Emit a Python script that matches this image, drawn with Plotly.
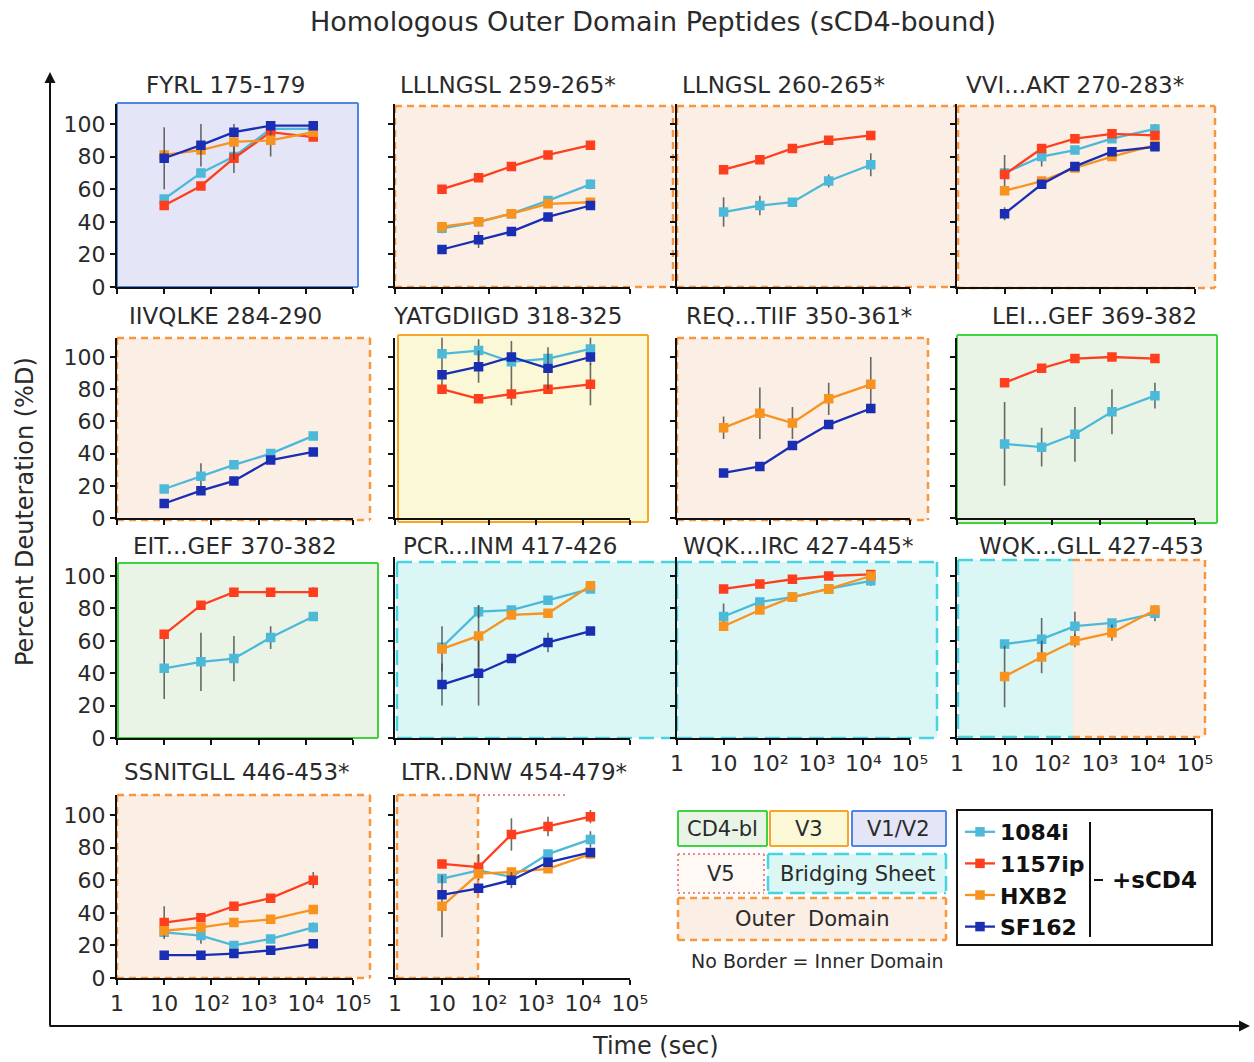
import plotly.graph_objects as go

W, H = 1254, 1062

# ---------------- data ----------------
TIMES = [10, 60, 300, 1800, 14400]          # exchange times (s)
SERIES = ["1084i", "1157ip", "HXB2", "SF162"]
X_TICK_VALS = [1, 10, 100, 1000, 10000, 100000]
X_TICK_TEXT = ["1", "10", "10²", "10³", "10⁴", "10⁵"]
Y_TICK_VALS = [0, 20, 40, 60, 80, 100]

PANEL_TITLES = [
    "FYRL 175-179", "LLLNGSL 259-265*", "LLNGSL 260-265*", "VVI...AKT 270-283*",
    "IIVQLKE 284-290", "YATGDIIGD 318-325", "REQ...TIIF 350-361*", "LEI...GEF 369-382",
    "EIT...GEF 370-382", "PCR...INM 417-426", "WQK...IRC 427-445*", "WQK...GLL 427-453",
    "SSNITGLL 446-453*", "LTR..DNW 454-479*",
]

# FYRL 175-179
fyrl_1084i = [54, 70, 80, 97, 97]
fyrl_1157ip = [50, 62, 79, 95, 92]
fyrl_hxb2 = [81, 84, 89, 90, 95]
fyrl_sf162 = [79, 87, 95, 99, 99]
fyrl_1157ip_err = [0, 0, 9, 0, 0]
fyrl_hxb2_err = [0, 0, 11, 10, 0]
fyrl_sf162_err = [19, 13, 0, 0, 0]

# LLLNGSL 259-265*
lllngsl_1084i = [36, 40, 45, 53, 63]
lllngsl_1157ip = [60, 67, 74, 81, 87]
lllngsl_hxb2 = [37, 40, 45, 51, 52]
lllngsl_sf162 = [23, 29, 34, 43, 50]
lllngsl_1084i_err = [3, 0, 0, 0, 3]
lllngsl_sf162_err = [0, 5, 0, 0, 0]

# LLNGSL 260-265*
llngsl_1084i = [46, 50, 52, 65, 75]
llngsl_1157ip = [72, 78, 85, 90, 93]
llngsl_1084i_err = [9, 6, 0, 4, 7]

# VVI...AKT 270-283*
vvi_1084i = [70, 80, 84, 91, 97]
vvi_1157ip = [69, 85, 91, 94, 93]
vvi_hxb2 = [59, 65, 73, 80, 87]
vvi_sf162 = [45, 63, 74, 83, 86]
vvi_1084i_err = [0, 6, 0, 0, 3]
vvi_1157ip_err = [12, 0, 0, 0, 0]
vvi_sf162_err = [4, 0, 0, 0, 0]

# IIVQLKE 284-290
iivqlke_1084i = [18, 26, 33, 40, 51]
iivqlke_sf162 = [9, 17, 23, 36, 41]
iivqlke_1084i_err = [2, 8, 0, 0, 0]

# YATGDIIGD 318-325
yatg_1084i = [102, 104, 97, 99, 105]
yatg_1157ip = [80, 74, 77, 80, 83]
yatg_sf162 = [89, 94, 100, 93, 100]
yatg_1084i_err = [20, 7, 13, 0, 10]
yatg_1157ip_err = [0, 0, 7, 0, 13]
yatg_sf162_err = [0, 10, 0, 13, 0]

# REQ...TIIF 350-361*
req_hxb2 = [56, 65, 59, 74, 83]
req_sf162 = [28, 32, 45, 58, 68]
req_hxb2_err = [7, 16, 10, 10, 17]

# LEI...GEF 369-382
lei_1084i = [46, 44, 52, 66, 76]
lei_1157ip = [84, 93, 99, 100, 99]
lei_1084i_err = [26, 12, 17, 14, 8]

# EIT...GEF 370-382
eit_1084i = [43, 47, 49, 62, 75]
eit_1157ip = [64, 82, 90, 90, 90]
eit_1084i_err = [19, 18, 14, 7, 0]
eit_1157ip_err = [0, 0, 0, 0, 3]

# PCR...INM 417-426
pcr_1084i = [56, 78, 79, 85, 92]
pcr_hxb2 = [55, 63, 76, 77, 94]
pcr_sf162 = [33, 40, 49, 59, 66]
pcr_1084i_err = [0, 4, 0, 0, 2]
pcr_hxb2_err = [14, 19, 0, 0, 0]
pcr_sf162_err = [13, 20, 0, 6, 0]

# WQK...IRC 427-445*
wqkirc_1084i = [75, 84, 87, 92, 97]
wqkirc_1157ip = [92, 95, 98, 100, 101]
wqkirc_hxb2 = [69, 79, 87, 92, 100]
wqkirc_1084i_err = [8, 0, 0, 0, 3]
wqkirc_hxb2_err = [3, 0, 2, 0, 0]

# WQK...GLL 427-453
wqkgll_1084i = [58, 61, 69, 71, 77]
wqkgll_hxb2 = [38, 50, 60, 65, 79]
wqkgll_1084i_err = [0, 13, 9, 0, 5]
wqkgll_hxb2_err = [19, 10, 4, 5, 0]

# SSNITGLL 446-453*
ssn_1084i = [28, 26, 20, 24, 31]
ssn_1157ip = [34, 37, 44, 49, 60]
ssn_hxb2 = [29, 31, 34, 36, 42]
ssn_sf162 = [14, 14, 15, 17, 21]
ssn_1084i_err = [0, 5, 0, 0, 3]
ssn_1157ip_err = [10, 0, 0, 0, 5]

# LTR..DNW 454-479*
ltr_1084i = [61, 66, 62, 76, 85]
ltr_1157ip = [70, 68, 88, 93, 99]
ltr_hxb2 = [44, 64, 65, 67, 76]
ltr_sf162 = [51, 55, 60, 71, 77]
ltr_1084i_err = [0, 0, 0, 0, 5]
ltr_1157ip_err = [0, 8, 10, 6, 4]
ltr_hxb2_err = [19, 0, 0, 0, 0]
ltr_sf162_err = [0, 0, 5, 0, 0]

# per-panel table built from the arrays above: series -> (values, errors)
PANELS = [
    {"1084i": (fyrl_1084i, None), "1157ip": (fyrl_1157ip, fyrl_1157ip_err),
     "HXB2": (fyrl_hxb2, fyrl_hxb2_err), "SF162": (fyrl_sf162, fyrl_sf162_err)},
    {"1084i": (lllngsl_1084i, lllngsl_1084i_err), "1157ip": (lllngsl_1157ip, None),
     "HXB2": (lllngsl_hxb2, None), "SF162": (lllngsl_sf162, lllngsl_sf162_err)},
    {"1084i": (llngsl_1084i, llngsl_1084i_err), "1157ip": (llngsl_1157ip, None)},
    {"1084i": (vvi_1084i, vvi_1084i_err), "1157ip": (vvi_1157ip, vvi_1157ip_err),
     "HXB2": (vvi_hxb2, None), "SF162": (vvi_sf162, vvi_sf162_err)},
    {"1084i": (iivqlke_1084i, iivqlke_1084i_err), "SF162": (iivqlke_sf162, None)},
    {"1084i": (yatg_1084i, yatg_1084i_err), "1157ip": (yatg_1157ip, yatg_1157ip_err),
     "SF162": (yatg_sf162, yatg_sf162_err)},
    {"HXB2": (req_hxb2, req_hxb2_err), "SF162": (req_sf162, None)},
    {"1084i": (lei_1084i, lei_1084i_err), "1157ip": (lei_1157ip, None)},
    {"1084i": (eit_1084i, eit_1084i_err), "1157ip": (eit_1157ip, eit_1157ip_err)},
    {"1084i": (pcr_1084i, pcr_1084i_err), "HXB2": (pcr_hxb2, pcr_hxb2_err),
     "SF162": (pcr_sf162, pcr_sf162_err)},
    {"1084i": (wqkirc_1084i, wqkirc_1084i_err), "1157ip": (wqkirc_1157ip, None),
     "HXB2": (wqkirc_hxb2, wqkirc_hxb2_err)},
    {"1084i": (wqkgll_1084i, wqkgll_1084i_err), "HXB2": (wqkgll_hxb2, wqkgll_hxb2_err)},
    {"1084i": (ssn_1084i, ssn_1084i_err), "1157ip": (ssn_1157ip, ssn_1157ip_err),
     "HXB2": (ssn_hxb2, None), "SF162": (ssn_sf162, None)},
    {"1084i": (ltr_1084i, ltr_1084i_err), "1157ip": (ltr_1157ip, ltr_1157ip_err),
     "HXB2": (ltr_hxb2, ltr_hxb2_err), "SF162": (ltr_sf162, ltr_sf162_err)},
]

# ---------------- styling / geometry ----------------
COLORS = {"1084i": "#4DB9D9", "1157ip": "#FF3E1E", "HXB2": "#F7931E", "SF162": "#1A2EB4"}
FONT = "DejaVu Sans, Verdana, sans-serif"
TXT = "#2a2a2a"

COL_X = [(117, 353), (395, 630), (677, 910), (957, 1195)]     # pixel span of log axis 1..1e5
ROW_Y = [(287, 1.63), (518, 1.61), (738, 1.62), (978, 1.63)]  # pixel of y=0, px per %D
Y_TOP = 112

TITLE_POS = [(225, 85), (508, 85), (783, 85), (1075, 85),
             (226, 316), (507, 316), (799, 316), (1094, 316),
             (235, 546), (510, 546), (798, 546), (1091, 546),
             (237, 772), (514, 772)]

REGION = {
    "v1v2": dict(fill="#E5E5F8", line="#4D86E6", dash="solid", width=2),
    "outer": dict(fill="#FBEEE5", line="#F7963F", dash="7px,5px", width=2.5),
    "v3": dict(fill="#FBF8D7", line="#F6A623", dash="solid", width=2),
    "cd4": dict(fill="#E9F4E7", line="#3DD43D", dash="solid", width=2),
    "bridge": dict(fill="#DAF7F6", line="#48D3E3", dash="15px,7px", width=2.5),
    "v5": dict(fill="#FFF9F6", line="#F08A8A", dash="2px,3px", width=2),
}

# region frames in pixels: (kind, x0, y0, x1, y1, sides)
FRAMES = [
    [("v1v2", 117, 103, 358, 287, "tlbr")],
    [("outer", 395, 106, 673, 287, "tlbr")],
    [("outer", 677, 106, 957, 287, "tlbr")],
    [("outer", 958, 106, 1215, 288, "tlbr")],
    [("outer", 117, 338, 370, 520, "tlbr")],
    [("v3", 398, 335, 648, 522, "tlbr")],
    [("outer", 677, 338, 928, 520, "tlbr")],
    [("cd4", 957, 335, 1217, 523, "tlbr")],
    [("cd4", 118, 563, 378, 738, "tlbr")],
    [("bridge", 397, 562, 677, 738, "tlbr")],
    [("bridge", 677, 562, 937, 738, "tlbr")],
    [("bridge", 958, 560, 1073, 737, "tlb"), ("outer", 1073, 560, 1205, 737, "trb")],
    [("outer", 117, 795, 370, 978, "tlbr")],
    [("outer", 397, 795, 478, 978, "tlbr")],
]


def px(x):
    return x / W


def py(y):
    return 1 - y / H


shapes = []
annotations = []


def label(text, x, y, size, xanchor="center", color=TXT, angle=0):
    annotations.append(dict(text=text, x=px(x), y=py(y), xref="paper", yref="paper",
                            showarrow=False, xanchor=xanchor, yanchor="middle",
                            textangle=angle, font=dict(size=size, color=color, family=FONT)))


def region(kind, x0, y0, x1, y1, sides="tlbr", fill=True):
    st = REGION[kind]
    if fill:
        shapes.append(dict(type="rect", xref="paper", yref="paper", layer="below",
                           x0=px(x0), x1=px(x1), y0=py(y1), y1=py(y0),
                           fillcolor=st["fill"], line=dict(width=0)))
    seg = {"t": (x0, y0, x1, y0), "b": (x0, y1, x1, y1),
           "l": (x0, y0, x0, y1), "r": (x1, y0, x1, y1)}
    for s in sides:
        a, b, c, d = seg[s]
        shapes.append(dict(type="line", xref="paper", yref="paper", layer="below",
                           x0=px(a), y0=py(b), x1=px(c), y1=py(d),
                           line=dict(color=st["line"], width=st["width"], dash=st["dash"])))


for frames in FRAMES:
    for kind, x0, y0, x1, y1, sides in frames:
        region(kind, x0, y0, x1, y1, sides)
# V5 stretch above the later part of LTR..DNW
region("v5", 478, 795, 565, 795, "t", fill=False)

fig = go.Figure()
shown = set()
layout_axes = {}

for i, panel in enumerate(PANELS):
    r, c = divmod(i, 4)
    k = i + 1
    xs = "" if k == 1 else str(k)
    x0p, x1p = COL_X[c]
    y0p, sc = ROW_Y[r]
    xlabels = (r == 3) or (r == 2 and c >= 2)
    layout_axes[f"xaxis{xs}"] = dict(
        domain=[px(x0p), px(x1p)], anchor=f"y{xs}", type="log", range=[0, 5],
        tickvals=X_TICK_VALS, ticktext=X_TICK_TEXT, showticklabels=xlabels,
        ticks="outside", ticklen=5, tickwidth=2, tickcolor="#111",
        showline=True, linecolor="#111", linewidth=2, showgrid=False, zeroline=False,
        tickfont=dict(size=22, color=TXT, family=FONT), fixedrange=True)
    layout_axes[f"yaxis{xs}"] = dict(
        domain=[py(y0p), py(y0p - Y_TOP * sc)], anchor=f"x{xs}", range=[0, Y_TOP],
        tickvals=Y_TICK_VALS, showticklabels=(c == 0),
        ticks="outside", ticklen=5, tickwidth=2, tickcolor="#111",
        showline=True, linecolor="#111", linewidth=2, showgrid=False, zeroline=False,
        tickfont=dict(size=22, color=TXT, family=FONT), fixedrange=True)

    for s in SERIES:
        if s not in panel:
            continue
        vals, errs = panel[s]
        err = dict(type="data", array=errs, visible=True, color="rgba(70,70,70,0.8)",
                   thickness=1.6, width=0) if errs else None
        fig.add_trace(go.Scatter(
            x=TIMES, y=vals, mode="lines+markers", xaxis=f"x{xs}", yaxis=f"y{xs}",
            name=f"<b>{s}</b>", legendgroup=s, showlegend=s not in shown,
            line=dict(color=COLORS[s], width=2.3),
            marker=dict(symbol="square", size=9.5, color=COLORS[s]),
            error_y=err, hoverinfo="skip"))
        shown.add(s)

    tx, ty = TITLE_POS[i]
    label(PANEL_TITLES[i], tx, ty, 23)

# overall axes arrows
annotations.append(dict(x=px(50), y=py(72), xref="paper", yref="paper", ax=0, ay=955,
                        text="", showarrow=True, arrowhead=2, arrowsize=1.1,
                        arrowwidth=2, arrowcolor="#111"))
annotations.append(dict(x=px(1250), y=py(1026), xref="paper", yref="paper", ax=-1202, ay=0,
                        text="", showarrow=True, arrowhead=2, arrowsize=1.1,
                        arrowwidth=2, arrowcolor="#111"))
label("Percent Deuteration (%D)", 25, 512, 24, angle=-90)
label("Time (sec)", 655, 1046, 24)
label("Homologous Outer Domain Peptides (sCD4-bound)", 653, 22, 27)

# region key
KEY = [("cd4", 678, 811, 767, 846, "CD4-bl"), ("v3", 770, 811, 848, 846, "V3"),
       ("v1v2", 852, 811, 946, 846, "V1/V2"), ("v5", 678, 854, 764, 893, "V5"),
       ("bridge", 768, 854, 946, 893, "Bridging Sheet"),
       ("outer", 678, 898, 946, 940, "Outer  Domain")]
for kind, x0, y0, x1, y1, text in KEY:
    region(kind, x0, y0, x1, y1)
    label(text, (x0 + x1) / 2, (y0 + y1) / 2, 21)
label("No Border = Inner Domain", 817, 961, 19)

# series key frame and sCD4 bracket
shapes.append(dict(type="rect", xref="paper", yref="paper", x0=px(957), x1=px(1212),
                   y0=py(945), y1=py(810), line=dict(color="#111", width=2)))
shapes.append(dict(type="line", xref="paper", yref="paper", x0=px(1090), x1=px(1090),
                   y0=py(822), y1=py(937), line=dict(color="#111", width=2)))
shapes.append(dict(type="line", xref="paper", yref="paper", x0=px(1094), x1=px(1103),
                   y0=py(880), y1=py(880), line=dict(color="#111", width=2)))
label("<b>+sCD4</b>", 1110, 880, 23, xanchor="left", color="#111")

fig.update_layout(
    width=W, height=H, margin=dict(l=0, r=0, t=0, b=0, autoexpand=False),
    paper_bgcolor="white", plot_bgcolor="rgba(0,0,0,0)",
    font=dict(family=FONT, color=TXT),
    shapes=shapes, annotations=annotations,
    legend=dict(x=px(960), y=py(811), xanchor="left", yanchor="top",
                bgcolor="rgba(0,0,0,0)", borderwidth=0, tracegroupgap=0,
                itemwidth=30, font=dict(size=22, color="#111", family=FONT),
                traceorder="normal"),
    **layout_axes,
)

fig.write_html("out.html")
